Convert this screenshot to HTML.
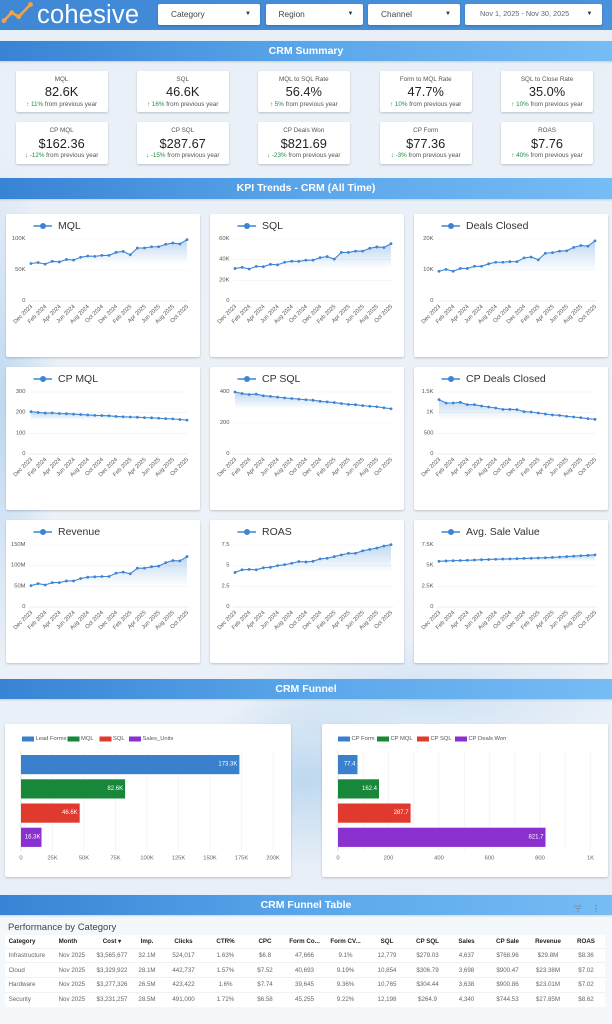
<!DOCTYPE html>
<html><head><meta charset="utf-8">
<style>
*{margin:0;padding:0;box-sizing:border-box}
html,body{width:612px;height:1024px;overflow:hidden}
body{position:relative;font-family:"Liberation Sans",sans-serif;
background:
radial-gradient(ellipse 60px 260px at 0% 40%, rgba(150,195,235,.55), transparent),
radial-gradient(ellipse 120px 90px at 50% 76%, rgba(160,200,235,.6), transparent),
radial-gradient(ellipse 200px 60px at 70% 68%, rgba(180,212,240,.5), transparent),
linear-gradient(180deg,#e8eff7,#edf2f8 50%,#e6eef7);}
.hdr{position:absolute;left:0;top:0;width:612px;height:30px;background:linear-gradient(90deg,#3f88d6,#4a92db)}
.logo{position:absolute;left:37px;top:1px;font-size:25.5px;color:#fff;line-height:28px;letter-spacing:.2px}
.dd{position:absolute;top:4px;height:20.5px;background:#fff;border-radius:2px;box-shadow:0 1px 2px rgba(0,0,0,.2);font-size:8.3px;color:#444;line-height:20.5px;padding-left:13px}
.dd b{position:absolute;right:9px;top:0;font-weight:normal;font-size:6px;color:#333}
.bar{position:absolute;left:0;width:612px;height:20.5px;background:linear-gradient(90deg,#3883d4,#5aa6ea 50%,#76bcf5);color:#fff;font-weight:bold;font-size:10.5px;text-align:center;line-height:20.5px;box-shadow:0 1px 2px rgba(0,0,0,.15)}
.sc{position:absolute;width:92px;height:41.5px;background:#fff;border-radius:2px;box-shadow:0 1px 2px rgba(0,0,0,.2);text-align:center}
.sc .l{position:absolute;left:0;width:100%;top:4px;font-size:6.3px;line-height:9px;color:#555}
.sc .v{position:absolute;left:0;width:100%;top:13.5px;font-size:12.8px;line-height:16px;color:#222}
.sc .s{position:absolute;left:0;width:100%;top:29px;font-size:6.3px;line-height:9px;color:#555;white-space:nowrap}
.sc .s i{font-style:normal;color:#1e8e3e}
.cc{position:absolute;width:194px;height:143px;background:#fff;border-radius:2px;box-shadow:0 1px 2px rgba(0,0,0,.2)}
.cc svg,.fc svg{position:absolute;left:0;top:0}
.lt{font-family:"Liberation Sans",sans-serif;font-size:10.5px;fill:#333;dominant-baseline:central}
.yl text{font-family:"Liberation Sans",sans-serif;font-size:5.8px;fill:#555;text-anchor:end;dominant-baseline:central}
.xl text{font-family:"Liberation Sans",sans-serif;font-size:5.7px;fill:#555;text-anchor:end;dominant-baseline:central}
.gr line{stroke:#f0f0f0;stroke-width:.6}
.fc{position:absolute;top:724px;width:286px;height:153px;background:#fff;border-radius:2px;box-shadow:0 1px 2px rgba(0,0,0,.2)}
.fl text{font-family:"Liberation Sans",sans-serif;font-size:5.8px;fill:#555;dominant-baseline:central}
.bl text{font-family:"Liberation Sans",sans-serif;font-size:6px;fill:#fff;text-anchor:end;dominant-baseline:central}
.tk text{font-family:"Liberation Sans",sans-serif;font-size:5.8px;fill:#666;text-anchor:middle;dominant-baseline:central}
.panel{position:absolute;left:0;top:914px;width:612px;height:110px;background:rgba(246,249,252,.85)}
.pt{position:absolute;left:8px;top:921px;font-size:9.5px;line-height:13px;color:#444}
table{position:absolute;left:5px;top:935px;width:600px;border-collapse:collapse;table-layout:fixed;background:#fff;font-size:6.2px;color:#666}
td,th{padding:0;text-align:center;white-space:nowrap;overflow:hidden}
th{height:13px;color:#222;font-weight:bold}
td{height:14.7px;border-top:1px solid #f1f1f1}
.lft{text-align:left;padding-left:3.6px}
</style></head><body>
<svg width="0" height="0" style="position:absolute"><defs><linearGradient id="ga" x1="0" y1="0" x2="0" y2="1"><stop offset="0" stop-color="#3d85d4" stop-opacity=".32"/><stop offset="1" stop-color="#3d85d4" stop-opacity="0"/></linearGradient></defs></svg>

<div class="hdr"></div>
<svg width="36" height="28" style="position:absolute;left:0;top:0"><polyline points="4,20.7 11.7,12.7 18.7,16.7 30.5,4.5" fill="none" stroke="#f4a340" stroke-width="2.6" stroke-linejoin="round"/><circle cx="4" cy="20.7" r="2.4" fill="#f4a340"/><circle cx="11.7" cy="12.7" r="2.4" fill="#f4a340"/><circle cx="18.7" cy="16.7" r="2.4" fill="#f4a340"/><circle cx="30.5" cy="4.5" r="2.4" fill="#f4a340"/></svg>
<div class="logo">cohesive</div>
<div class="dd" style="left:158px;width:102px">Category<b>▼</b></div>
<div class="dd" style="left:265.5px;width:97px">Region<b>▼</b></div>
<div class="dd" style="left:368px;width:92px">Channel<b>▼</b></div>
<div class="dd" style="left:465px;width:136.5px;font-size:7.3px;color:#666;padding-left:15px">Nov 1, 2025 - Nov 30, 2025<b>▼</b></div>

<div class="bar" style="top:40.5px">CRM Summary</div>

<div class="sc" style="left:15.6px;top:70.7px"><div class="l">MQL</div><div class="v">82.6K</div><div class="s"><i>↑ 11%</i> from previous year</div></div>
<div class="sc" style="left:136.7px;top:70.7px"><div class="l">SQL</div><div class="v">46.6K</div><div class="s"><i>↑ 16%</i> from previous year</div></div>
<div class="sc" style="left:257.8px;top:70.7px"><div class="l">MQL to SQL Rate</div><div class="v">56.4%</div><div class="s"><i>↑ 5%</i> from previous year</div></div>
<div class="sc" style="left:379.7px;top:70.7px"><div class="l">Form to MQL Rate</div><div class="v">47.7%</div><div class="s"><i>↑ 10%</i> from previous year</div></div>
<div class="sc" style="left:501px;top:70.7px"><div class="l">SQL to Close Rate</div><div class="v">35.0%</div><div class="s"><i>↑ 10%</i> from previous year</div></div>

<div class="sc" style="left:15.6px;top:122.3px"><div class="l">CP MQL</div><div class="v">$162.36</div><div class="s"><i>↓ -12%</i> from previous year</div></div>
<div class="sc" style="left:136.7px;top:122.3px"><div class="l">CP SQL</div><div class="v">$287.67</div><div class="s"><i>↓ -15%</i> from previous year</div></div>
<div class="sc" style="left:257.8px;top:122.3px"><div class="l">CP Deals Won</div><div class="v">$821.69</div><div class="s"><i>↓ -23%</i> from previous year</div></div>
<div class="sc" style="left:379.7px;top:122.3px"><div class="l">CP Form</div><div class="v">$77.36</div><div class="s"><i>↓ -3%</i> from previous year</div></div>
<div class="sc" style="left:501px;top:122.3px"><div class="l">ROAS</div><div class="v">$7.76</div><div class="s"><i>↑ 40%</i> from previous year</div></div>

<div class="bar" style="top:178px">KPI Trends - CRM (All Time)</div>

<!-- Row 1 -->
<div class="cc" style="left:5.5px;top:214px"><svg width="194" height="143">
<line x1="27.5" y1="12" x2="46" y2="12" stroke="#3d85d4" stroke-width="1.4"/><circle cx="37" cy="12" r="3" fill="#3d85d4"/><text class="lt" x="52" y="12">MQL</text>
<g class="gr"><line x1="23" x2="183" y1="25" y2="25"/><line x1="23" x2="183" y1="56" y2="56"/><line x1="23" x2="183" y1="87" y2="87" style="stroke:#ddd"/></g>
<g class="yl"><text x="19.5" y="25">100K</text><text x="19.5" y="56">50K</text><text x="19.5" y="87">0</text></g>
<g id="c1"></g>
<g class="xl"><text transform="translate(26,92) rotate(-45)">Dec 2023</text><text transform="translate(40.2,92) rotate(-45)">Feb 2024</text><text transform="translate(54.4,92) rotate(-45)">Apr 2024</text><text transform="translate(68.5,92) rotate(-45)">Jun 2024</text><text transform="translate(82.7,92) rotate(-45)">Aug 2024</text><text transform="translate(96.9,92) rotate(-45)">Oct 2024</text><text transform="translate(111.1,92) rotate(-45)">Dec 2024</text><text transform="translate(125.3,92) rotate(-45)">Feb 2025</text><text transform="translate(139.5,92) rotate(-45)">Apr 2025</text><text transform="translate(153.6,92) rotate(-45)">Jun 2025</text><text transform="translate(167.8,92) rotate(-45)">Aug 2025</text><text transform="translate(182,92) rotate(-45)">Oct 2025</text></g>
</svg></div>

<div class="cc" style="left:209.7px;top:214px"><svg width="194" height="143">
<line x1="27.5" y1="12" x2="46" y2="12" stroke="#3d85d4" stroke-width="1.4"/><circle cx="37" cy="12" r="3" fill="#3d85d4"/><text class="lt" x="52" y="12">SQL</text>
<g class="gr"><line x1="23" x2="183" y1="25" y2="25"/><line x1="23" x2="183" y1="45.7" y2="45.7"/><line x1="23" x2="183" y1="66.3" y2="66.3"/><line x1="23" x2="183" y1="87" y2="87" style="stroke:#ddd"/></g>
<g class="yl"><text x="19.5" y="25">60K</text><text x="19.5" y="45.7">40K</text><text x="19.5" y="66.3">20K</text><text x="19.5" y="87">0</text></g>
<g id="c2"></g>
<g class="xl"><text transform="translate(26,92) rotate(-45)">Dec 2023</text><text transform="translate(40.2,92) rotate(-45)">Feb 2024</text><text transform="translate(54.4,92) rotate(-45)">Apr 2024</text><text transform="translate(68.5,92) rotate(-45)">Jun 2024</text><text transform="translate(82.7,92) rotate(-45)">Aug 2024</text><text transform="translate(96.9,92) rotate(-45)">Oct 2024</text><text transform="translate(111.1,92) rotate(-45)">Dec 2024</text><text transform="translate(125.3,92) rotate(-45)">Feb 2025</text><text transform="translate(139.5,92) rotate(-45)">Apr 2025</text><text transform="translate(153.6,92) rotate(-45)">Jun 2025</text><text transform="translate(167.8,92) rotate(-45)">Aug 2025</text><text transform="translate(182,92) rotate(-45)">Oct 2025</text></g>
</svg></div>

<div class="cc" style="left:414.3px;top:214px"><svg width="194" height="143">
<line x1="27.5" y1="12" x2="46" y2="12" stroke="#3d85d4" stroke-width="1.4"/><circle cx="37" cy="12" r="3" fill="#3d85d4"/><text class="lt" x="52" y="12">Deals Closed</text>
<g class="gr"><line x1="23" x2="183" y1="25" y2="25"/><line x1="23" x2="183" y1="56" y2="56"/><line x1="23" x2="183" y1="87" y2="87" style="stroke:#ddd"/></g>
<g class="yl"><text x="19.5" y="25">20K</text><text x="19.5" y="56">10K</text><text x="19.5" y="87">0</text></g>
<g id="c3"></g>
<g class="xl"><text transform="translate(26,92) rotate(-45)">Dec 2023</text><text transform="translate(40.2,92) rotate(-45)">Feb 2024</text><text transform="translate(54.4,92) rotate(-45)">Apr 2024</text><text transform="translate(68.5,92) rotate(-45)">Jun 2024</text><text transform="translate(82.7,92) rotate(-45)">Aug 2024</text><text transform="translate(96.9,92) rotate(-45)">Oct 2024</text><text transform="translate(111.1,92) rotate(-45)">Dec 2024</text><text transform="translate(125.3,92) rotate(-45)">Feb 2025</text><text transform="translate(139.5,92) rotate(-45)">Apr 2025</text><text transform="translate(153.6,92) rotate(-45)">Jun 2025</text><text transform="translate(167.8,92) rotate(-45)">Aug 2025</text><text transform="translate(182,92) rotate(-45)">Oct 2025</text></g>
</svg></div>

<!-- Row 2 -->
<div class="cc" style="left:5.5px;top:367px"><svg width="194" height="143">
<line x1="27.5" y1="12" x2="46" y2="12" stroke="#3d85d4" stroke-width="1.4"/><circle cx="37" cy="12" r="3" fill="#3d85d4"/><text class="lt" x="52" y="12">CP MQL</text>
<g class="gr"><line x1="23" x2="183" y1="25" y2="25"/><line x1="23" x2="183" y1="45.7" y2="45.7"/><line x1="23" x2="183" y1="66.3" y2="66.3"/><line x1="23" x2="183" y1="87" y2="87" style="stroke:#ddd"/></g>
<g class="yl"><text x="19.5" y="25">300</text><text x="19.5" y="45.7">200</text><text x="19.5" y="66.3">100</text><text x="19.5" y="87">0</text></g>
<g id="c4"></g>
<g class="xl"><text transform="translate(26,92) rotate(-45)">Dec 2023</text><text transform="translate(40.2,92) rotate(-45)">Feb 2024</text><text transform="translate(54.4,92) rotate(-45)">Apr 2024</text><text transform="translate(68.5,92) rotate(-45)">Jun 2024</text><text transform="translate(82.7,92) rotate(-45)">Aug 2024</text><text transform="translate(96.9,92) rotate(-45)">Oct 2024</text><text transform="translate(111.1,92) rotate(-45)">Dec 2024</text><text transform="translate(125.3,92) rotate(-45)">Feb 2025</text><text transform="translate(139.5,92) rotate(-45)">Apr 2025</text><text transform="translate(153.6,92) rotate(-45)">Jun 2025</text><text transform="translate(167.8,92) rotate(-45)">Aug 2025</text><text transform="translate(182,92) rotate(-45)">Oct 2025</text></g>
</svg></div>

<div class="cc" style="left:209.7px;top:367px"><svg width="194" height="143">
<line x1="27.5" y1="12" x2="46" y2="12" stroke="#3d85d4" stroke-width="1.4"/><circle cx="37" cy="12" r="3" fill="#3d85d4"/><text class="lt" x="52" y="12">CP SQL</text>
<g class="gr"><line x1="23" x2="183" y1="25" y2="25"/><line x1="23" x2="183" y1="56" y2="56"/><line x1="23" x2="183" y1="87" y2="87" style="stroke:#ddd"/></g>
<g class="yl"><text x="19.5" y="25">400</text><text x="19.5" y="56">200</text><text x="19.5" y="87">0</text></g>
<g id="c5"></g>
<g class="xl"><text transform="translate(26,92) rotate(-45)">Dec 2023</text><text transform="translate(40.2,92) rotate(-45)">Feb 2024</text><text transform="translate(54.4,92) rotate(-45)">Apr 2024</text><text transform="translate(68.5,92) rotate(-45)">Jun 2024</text><text transform="translate(82.7,92) rotate(-45)">Aug 2024</text><text transform="translate(96.9,92) rotate(-45)">Oct 2024</text><text transform="translate(111.1,92) rotate(-45)">Dec 2024</text><text transform="translate(125.3,92) rotate(-45)">Feb 2025</text><text transform="translate(139.5,92) rotate(-45)">Apr 2025</text><text transform="translate(153.6,92) rotate(-45)">Jun 2025</text><text transform="translate(167.8,92) rotate(-45)">Aug 2025</text><text transform="translate(182,92) rotate(-45)">Oct 2025</text></g>
</svg></div>

<div class="cc" style="left:414.3px;top:367px"><svg width="194" height="143">
<line x1="27.5" y1="12" x2="46" y2="12" stroke="#3d85d4" stroke-width="1.4"/><circle cx="37" cy="12" r="3" fill="#3d85d4"/><text class="lt" x="52" y="12">CP Deals Closed</text>
<g class="gr"><line x1="23" x2="183" y1="25" y2="25"/><line x1="23" x2="183" y1="45.7" y2="45.7"/><line x1="23" x2="183" y1="66.3" y2="66.3"/><line x1="23" x2="183" y1="87" y2="87" style="stroke:#ddd"/></g>
<g class="yl"><text x="19.5" y="25">1.5K</text><text x="19.5" y="45.7">1K</text><text x="19.5" y="66.3">500</text><text x="19.5" y="87">0</text></g>
<g id="c6"></g>
<g class="xl"><text transform="translate(26,92) rotate(-45)">Dec 2023</text><text transform="translate(40.2,92) rotate(-45)">Feb 2024</text><text transform="translate(54.4,92) rotate(-45)">Apr 2024</text><text transform="translate(68.5,92) rotate(-45)">Jun 2024</text><text transform="translate(82.7,92) rotate(-45)">Aug 2024</text><text transform="translate(96.9,92) rotate(-45)">Oct 2024</text><text transform="translate(111.1,92) rotate(-45)">Dec 2024</text><text transform="translate(125.3,92) rotate(-45)">Feb 2025</text><text transform="translate(139.5,92) rotate(-45)">Apr 2025</text><text transform="translate(153.6,92) rotate(-45)">Jun 2025</text><text transform="translate(167.8,92) rotate(-45)">Aug 2025</text><text transform="translate(182,92) rotate(-45)">Oct 2025</text></g>
</svg></div>

<!-- Row 3 -->
<div class="cc" style="left:5.5px;top:520px"><svg width="194" height="143">
<line x1="27.5" y1="12" x2="46" y2="12" stroke="#3d85d4" stroke-width="1.4"/><circle cx="37" cy="12" r="3" fill="#3d85d4"/><text class="lt" x="52" y="12">Revenue</text>
<g class="gr"><line x1="23" x2="183" y1="25" y2="25"/><line x1="23" x2="183" y1="45.7" y2="45.7"/><line x1="23" x2="183" y1="66.3" y2="66.3"/><line x1="23" x2="183" y1="87" y2="87" style="stroke:#ddd"/></g>
<g class="yl"><text x="19.5" y="25">150M</text><text x="19.5" y="45.7">100M</text><text x="19.5" y="66.3">50M</text><text x="19.5" y="87">0</text></g>
<g id="c7"></g>
<g class="xl"><text transform="translate(26,92) rotate(-45)">Dec 2023</text><text transform="translate(40.2,92) rotate(-45)">Feb 2024</text><text transform="translate(54.4,92) rotate(-45)">Apr 2024</text><text transform="translate(68.5,92) rotate(-45)">Jun 2024</text><text transform="translate(82.7,92) rotate(-45)">Aug 2024</text><text transform="translate(96.9,92) rotate(-45)">Oct 2024</text><text transform="translate(111.1,92) rotate(-45)">Dec 2024</text><text transform="translate(125.3,92) rotate(-45)">Feb 2025</text><text transform="translate(139.5,92) rotate(-45)">Apr 2025</text><text transform="translate(153.6,92) rotate(-45)">Jun 2025</text><text transform="translate(167.8,92) rotate(-45)">Aug 2025</text><text transform="translate(182,92) rotate(-45)">Oct 2025</text></g>
</svg></div>

<div class="cc" style="left:209.7px;top:520px"><svg width="194" height="143">
<line x1="27.5" y1="12" x2="46" y2="12" stroke="#3d85d4" stroke-width="1.4"/><circle cx="37" cy="12" r="3" fill="#3d85d4"/><text class="lt" x="52" y="12">ROAS</text>
<g class="gr"><line x1="23" x2="183" y1="25" y2="25"/><line x1="23" x2="183" y1="45.7" y2="45.7"/><line x1="23" x2="183" y1="66.3" y2="66.3"/><line x1="23" x2="183" y1="87" y2="87" style="stroke:#ddd"/></g>
<g class="yl"><text x="19.5" y="25">7.5</text><text x="19.5" y="45.7">5</text><text x="19.5" y="66.3">2.5</text><text x="19.5" y="87">0</text></g>
<g id="c8"></g>
<g class="xl"><text transform="translate(26,92) rotate(-45)">Dec 2023</text><text transform="translate(40.2,92) rotate(-45)">Feb 2024</text><text transform="translate(54.4,92) rotate(-45)">Apr 2024</text><text transform="translate(68.5,92) rotate(-45)">Jun 2024</text><text transform="translate(82.7,92) rotate(-45)">Aug 2024</text><text transform="translate(96.9,92) rotate(-45)">Oct 2024</text><text transform="translate(111.1,92) rotate(-45)">Dec 2024</text><text transform="translate(125.3,92) rotate(-45)">Feb 2025</text><text transform="translate(139.5,92) rotate(-45)">Apr 2025</text><text transform="translate(153.6,92) rotate(-45)">Jun 2025</text><text transform="translate(167.8,92) rotate(-45)">Aug 2025</text><text transform="translate(182,92) rotate(-45)">Oct 2025</text></g>
</svg></div>

<div class="cc" style="left:414.3px;top:520px"><svg width="194" height="143">
<line x1="27.5" y1="12" x2="46" y2="12" stroke="#3d85d4" stroke-width="1.4"/><circle cx="37" cy="12" r="3" fill="#3d85d4"/><text class="lt" x="52" y="12">Avg. Sale Value</text>
<g class="gr"><line x1="23" x2="183" y1="25" y2="25"/><line x1="23" x2="183" y1="45.7" y2="45.7"/><line x1="23" x2="183" y1="66.3" y2="66.3"/><line x1="23" x2="183" y1="87" y2="87" style="stroke:#ddd"/></g>
<g class="yl"><text x="19.5" y="25">7.5K</text><text x="19.5" y="45.7">5K</text><text x="19.5" y="66.3">2.5K</text><text x="19.5" y="87">0</text></g>
<g id="c9"></g>
<g class="xl"><text transform="translate(26,92) rotate(-45)">Dec 2023</text><text transform="translate(40.2,92) rotate(-45)">Feb 2024</text><text transform="translate(54.4,92) rotate(-45)">Apr 2024</text><text transform="translate(68.5,92) rotate(-45)">Jun 2024</text><text transform="translate(82.7,92) rotate(-45)">Aug 2024</text><text transform="translate(96.9,92) rotate(-45)">Oct 2024</text><text transform="translate(111.1,92) rotate(-45)">Dec 2024</text><text transform="translate(125.3,92) rotate(-45)">Feb 2025</text><text transform="translate(139.5,92) rotate(-45)">Apr 2025</text><text transform="translate(153.6,92) rotate(-45)">Jun 2025</text><text transform="translate(167.8,92) rotate(-45)">Aug 2025</text><text transform="translate(182,92) rotate(-45)">Oct 2025</text></g>
</svg></div>

<div class="bar" style="top:678.5px">CRM Funnel</div>

<div class="fc" style="left:5px"><svg width="286" height="153">
<g class="fl"><rect x="17" y="12.5" width="12" height="5" fill="#3b80cc"/><text x="30.5" y="15">Lead Forms</text><rect x="62.5" y="12.5" width="12" height="5" fill="#17873a"/><text x="76" y="15">MQL</text><rect x="94.5" y="12.5" width="12" height="5" fill="#e0392e"/><text x="108" y="15">SQL</text><rect x="124" y="12.5" width="12" height="5" fill="#8a30cf"/><text x="137.5" y="15">Sales_Units</text></g>
<g stroke="#f0f0f0" stroke-width=".6"><line x1="47.5" x2="47.5" y1="27" y2="127"/><line x1="79" x2="79" y1="27" y2="127"/><line x1="110.5" x2="110.5" y1="27" y2="127"/><line x1="142" x2="142" y1="27" y2="127"/><line x1="173.5" x2="173.5" y1="27" y2="127"/><line x1="205" x2="205" y1="27" y2="127"/><line x1="236.5" x2="236.5" y1="27" y2="127"/><line x1="268" x2="268" y1="27" y2="127"/></g>
<line x1="16" x2="16" y1="27" y2="127" stroke="#ccc" stroke-width=".6"/>
<rect x="16" y="31" width="218.4" height="19.2" fill="#3b80cc"/>
<rect x="16" y="55.3" width="104.1" height="19.2" fill="#17873a"/>
<rect x="16" y="79.5" width="58.7" height="19.2" fill="#e0392e"/>
<rect x="16" y="103.7" width="20.5" height="19.2" fill="#8a30cf"/>
<g class="bl"><text x="232.4" y="40.6">173.3K</text><text x="118.1" y="64.9">82.6K</text><text x="72.7" y="89.1">46.6K</text><text x="35.5" y="113.3">16.3K</text></g>
<g class="tk"><text x="16" y="134.3">0</text><text x="47.5" y="134.3">25K</text><text x="79" y="134.3">50K</text><text x="110.5" y="134.3">75K</text><text x="142" y="134.3">100K</text><text x="173.5" y="134.3">125K</text><text x="205" y="134.3">150K</text><text x="236.5" y="134.3">175K</text><text x="268" y="134.3">200K</text></g>
</svg></div>

<div class="fc" style="left:322px"><svg width="286" height="153">
<g class="fl"><rect x="16" y="12.5" width="12" height="5" fill="#3b80cc"/><text x="29.5" y="15">CP Form</text><rect x="55" y="12.5" width="12" height="5" fill="#17873a"/><text x="68.5" y="15">CP MQL</text><rect x="95" y="12.5" width="12" height="5" fill="#e0392e"/><text x="108.5" y="15">CP SQL</text><rect x="133" y="12.5" width="12" height="5" fill="#8a30cf"/><text x="146.5" y="15">CP Deals Won</text></g>
<g stroke="#f0f0f0" stroke-width=".6"><line x1="41.25" x2="41.25" y1="27" y2="127"/><line x1="66.5" x2="66.5" y1="27" y2="127"/><line x1="91.75" x2="91.75" y1="27" y2="127"/><line x1="117" x2="117" y1="27" y2="127"/><line x1="142.25" x2="142.25" y1="27" y2="127"/><line x1="167.5" x2="167.5" y1="27" y2="127"/><line x1="192.75" x2="192.75" y1="27" y2="127"/><line x1="218" x2="218" y1="27" y2="127"/><line x1="243.25" x2="243.25" y1="27" y2="127"/><line x1="268.5" x2="268.5" y1="27" y2="127"/></g>
<line x1="16" x2="16" y1="27" y2="127" stroke="#ccc" stroke-width=".6"/>
<rect x="16" y="31" width="19.5" height="19.2" fill="#3b80cc"/>
<rect x="16" y="55.3" width="41" height="19.2" fill="#17873a"/>
<rect x="16" y="79.5" width="72.6" height="19.2" fill="#e0392e"/>
<rect x="16" y="103.7" width="207.5" height="19.2" fill="#8a30cf"/>
<g class="bl"><text x="33.5" y="40.6">77.4</text><text x="55" y="64.9">162.4</text><text x="86.6" y="89.1">287.7</text><text x="221.5" y="113.3">821.7</text></g>
<g class="tk"><text x="16" y="134.3">0</text><text x="66.5" y="134.3">200</text><text x="117" y="134.3">400</text><text x="167.5" y="134.3">600</text><text x="218" y="134.3">800</text><text x="268.5" y="134.3">1K</text></g>
</svg></div>

<div class="panel"></div>
<div class="bar" style="top:894.5px">CRM Funnel Table</div>
<svg width="30" height="12" style="position:absolute;left:572px;top:903px"><g stroke="#7a8a9a" stroke-width=".9"><line x1="2" x2="10" y1="3" y2="3"/><line x1="3.5" x2="8.5" y1="5.5" y2="5.5"/><line x1="5" x2="7" y1="8" y2="8"/></g><g fill="#7a8a9a"><circle cx="24" cy="2.5" r=".8"/><circle cx="24" cy="5.5" r=".8"/><circle cx="24" cy="8.5" r=".8"/></g></svg>
<div class="pt">Performance by Category</div>
<table>
<colgroup><col style="width:50px"><col style="width:37px"><col style="width:40px"><col style="width:30px"><col style="width:43px"><col style="width:41px"><col style="width:38px"><col style="width:41px"><col style="width:41px"><col style="width:42px"><col style="width:39px"><col style="width:39px"><col style="width:43px"><col style="width:38px"><col style="width:38px"></colgroup>
<tr><th class="lft">Category</th><th class="lft">Month</th><th>Cost ▾</th><th>Imp.</th><th>Clicks</th><th>CTR%</th><th>CPC</th><th>Form Co...</th><th>Form CV...</th><th>SQL</th><th>CP SQL</th><th>Sales</th><th>CP Sale</th><th>Revenue</th><th>ROAS</th></tr>
<tr><td class="lft">Infrastructure</td><td class="lft">Nov 2025</td><td>$3,565,677</td><td>32.1M</td><td>524,017</td><td>1.63%</td><td>$6.8</td><td>47,666</td><td>9.1%</td><td>12,779</td><td>$279.03</td><td>4,637</td><td>$768.96</td><td>$29.8M</td><td>$8.36</td></tr>
<tr><td class="lft">Cloud</td><td class="lft">Nov 2025</td><td>$3,329,922</td><td>28.1M</td><td>442,737</td><td>1.57%</td><td>$7.52</td><td>40,693</td><td>9.19%</td><td>10,854</td><td>$306.79</td><td>3,698</td><td>$900.47</td><td>$23.38M</td><td>$7.02</td></tr>
<tr><td class="lft">Hardware</td><td class="lft">Nov 2025</td><td>$3,277,326</td><td>26.5M</td><td>423,422</td><td>1.6%</td><td>$7.74</td><td>39,645</td><td>9.36%</td><td>10,765</td><td>$304.44</td><td>3,638</td><td>$900.86</td><td>$23.01M</td><td>$7.02</td></tr>
<tr><td class="lft">Security</td><td class="lft">Nov 2025</td><td>$3,231,257</td><td>28.5M</td><td>491,000</td><td>1.72%</td><td>$6.58</td><td>45,255</td><td>9.22%</td><td>12,198</td><td>$264.9</td><td>4,340</td><td>$744.53</td><td>$27.85M</td><td>$8.62</td></tr>
</table>

<script>
var D={
c1:[[60.5,62,59.5,64,63,67,66,70.5,72.5,72,73.5,73.5,78.5,80,74.5,85.5,85.5,87.5,87.5,91.5,93.5,92,99],100],
c2:[[31.5,32.5,31,33.5,33.2,35.5,35,37.5,38.5,38.3,39.5,39.5,42,43,40.5,47,47,48.3,48.3,51,52.3,51.8,55.5],60],
c3:[[9.6,10.2,9.6,10.5,10.5,11.2,11.2,12,12.5,12.5,12.7,12.7,13.9,14.2,13.3,15.4,15.6,16.1,16.2,17.3,17.9,17.7,19.4],20],
c4:[[205,201,198,199,196,195,193,191,189,187,186,185,182,180,179,178,176,175,173,171,170,167,164],300],
c5:[[400,390,384,386,376,372,367,362,358,354,350,347,340,336,332,326,320,318,312,308,305,298,292],400],
c6:[[1315,1234,1234,1250,1194,1194,1161,1137,1113,1080,1080,1073,1024,1016,992,968,944,935,911,895,879,855,839],1500],
c7:[[51.6,56.6,53.3,59,59,63,63,68.9,72.1,73,73.8,73.8,82,84.4,80.3,94,94,97.5,99,107.4,112.3,111.5,122],150],
c8:[[4.18,4.5,4.55,4.5,4.75,4.8,5,5.12,5.29,5.5,5.45,5.53,5.82,5.9,6.1,6.3,6.5,6.5,6.8,6.97,7.13,7.38,7.54],7.5],
c9:[[5.53,5.57,5.6,5.62,5.65,5.68,5.72,5.75,5.78,5.8,5.82,5.85,5.88,5.9,5.93,5.96,6.0,6.05,6.1,6.15,6.2,6.25,6.31],7.5]
};
var NS="http://www.w3.org/2000/svg";
for(var k in D){
 var d=D[k][0],m=D[k][1],g=document.getElementById(k);
 var x0=25,x1=181,yb=87,yt=25,n=d.length,pts=[],ymax=0,ymin=999;
 for(var i=0;i<n;i++){var x=x0+i*(x1-x0)/(n-1),y=yb-d[i]/m*(yb-yt);pts.push([x,y]);if(y>ymax)ymax=y;if(y<ymin)ymin=y;}
 var line=pts.map(function(p){return p[0].toFixed(2)+","+p[1].toFixed(2)}).join(" ");
 var area=line+" "+x1+","+ymax.toFixed(2)+" "+x0+","+ymax.toFixed(2);
 var h='<polygon points="'+area+'" fill="url(#ga)"/><polyline points="'+line+'" fill="none" stroke="#3d85d4" stroke-width="1.1"/>';
 for(var j=0;j<n;j++)h+='<circle cx="'+pts[j][0].toFixed(2)+'" cy="'+pts[j][1].toFixed(2)+'" r="1.4" fill="#3d85d4"/>';
 g.innerHTML=h;
}
</script>
</body></html>
